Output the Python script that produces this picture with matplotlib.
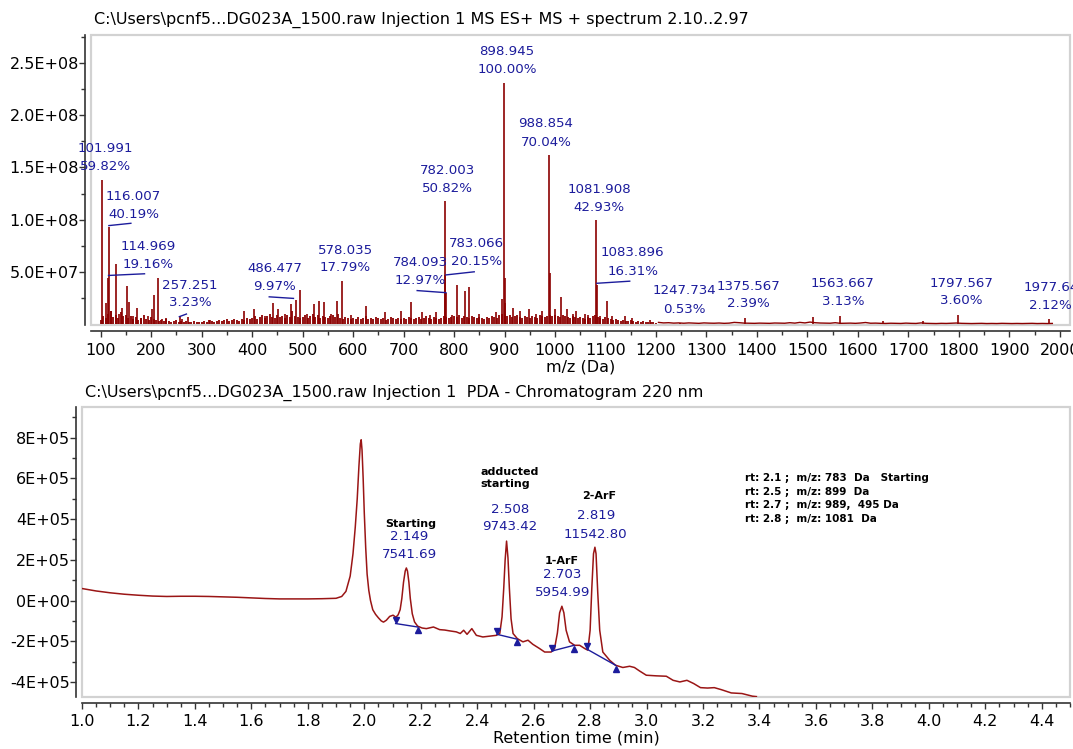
import numpy as np
import matplotlib
matplotlib.use("Agg")
import matplotlib.pyplot as plt
from matplotlib.patches import Rectangle
from matplotlib.ticker import MultipleLocator, FuncFormatter

plt.rcParams['font.family'] = ['DejaVu Sans']

# ---------------- DATA: MS spectrum ----------------
# main peaks (m/z, intensity in millions of counts)
peak_mz = [102.0, 110, 114.97, 116.0, 121, 130.5, 137, 143, 152, 157, 164, 172, 180, 193,
           201, 206, 214.5, 222, 229, 257.25, 262, 274, 317, 384, 404, 425, 441.5, 452,
           466, 477, 486.5, 495, 509, 522.6, 533.5, 541.7, 557, 569, 578.0, 595, 625.6,
           664, 695, 715.5, 736, 752, 765, 782.0, 783.07, 784.09, 796, 806, 821, 830,
           850, 882.5, 896, 898.95, 900.0, 901.5, 916, 930, 948, 963, 975, 988.85, 989.9,
           1000, 1011, 1024.7, 1035, 1042, 1059, 1066, 1081.9, 1083.9, 1090, 1103.6,
           1112, 1138, 1152, 1189, 1247.7, 1375.6, 1511.7, 1563.7, 1650, 1729, 1797.6,
           1977.6]
peak_int_M = [138, 20, 44.3, 92.8, 12, 57.6, 10, 15.6, 36, 21, 8, 15.6, 6, 8,
              14, 27.4, 43.6, 5, 6, 7.5, 5, 6.7, 4, 12, 14, 8, 20, 14,
              10, 19, 23, 32.5, 10, 19.4, 22, 21, 10, 22, 41.1, 9, 17,
              11, 12.4, 21, 11, 9, 11, 117.4, 46.5, 30.0, 9, 37, 32, 35,
              10, 11, 24, 231, 44, 20, 15, 12, 14, 10, 12, 161.8, 49,
              14, 26, 14, 10, 12, 10, 9, 99.2, 37.7, 8, 21.8,
              8, 8, 6, 4, 1.2, 5.5, 6.6, 7.2, 3, 3, 8.3,
              4.9]

# low-level background peaks, sampled every 5 Da from 100 Da (intensity, millions)
grass_start, grass_step = 100, 5
grass_M = [4, 8, 6, 10, 12, 7, 9, 6, 11, 8,
           9, 6, 8, 5, 7, 4, 6, 9, 5, 4, 7, 5, 4, 3, 4, 3, 5, 3, 2, 3,
           4, 2, 3, 2, 3, 2, 2, 3, 2, 2,
           2, 3, 2, 4, 3, 2, 3, 4, 3, 4, 5, 3, 4, 5, 4, 3, 5, 4, 6, 5,
           6, 8, 5, 7, 9, 6, 8, 10, 7, 6, 9, 7, 8, 6, 9, 7, 12, 8, 7, 6,
           7, 9, 6, 8, 10, 7, 9, 6, 8, 7, 6, 8, 9, 7, 10, 6, 5, 7, 6, 5,
           6, 5, 7, 5, 6, 8, 5, 6, 5, 7, 6, 5, 6, 4, 5, 7, 6, 5, 6, 5,
           6, 5, 7, 6, 5, 6, 7, 5, 6, 8, 6, 5, 7, 6, 5, 6, 8, 7, 6, 7,
           8, 7, 9, 6, 8, 7, 6, 8, 7, 6, 7, 6, 5, 7, 6, 8, 7, 6, 9, 10,
           10, 8, 9, 7, 8, 9, 7, 6, 8, 7, 6, 8, 7, 6, 9, 8, 7, 8, 9, 8,
           9, 8, 7, 9, 8, 7, 6, 8, 7, 6, 7, 6, 5, 7, 6, 8, 9, 7, 6, 5,
           7, 6, 5, 4, 5, 4, 3, 4, 3, 3, 4, 3, 2, 3, 2, 3, 2, 2, 2, 2, 1]
# sparse background above 1200 Da, every 10 Da (millions)
tail_start, tail_step = 1205, 10
tail_M = [1.5, 1, 1.2, 0.8, 1, 0.7, 1, 0.8, 0.6, 1, 0.8, 0.7, 0.9, 0.6, 0.8, 1.5, 1.2, 0.8,
          0.7, 0.6, 0.8, 0.7, 0.6, 0.9, 0.8, 0.7, 1.2, 0.8, 1.5, 1.0, 1.8, 1.2, 0.9, 0.8,
          0.7, 1.2, 0.6, 0.7, 0.8, 0.6, 0.9, 1.4, 0.7, 0.8, 0.6, 0.5, 0.7, 0.6, 0.5, 0.8,
          0.6, 0.5, 1.0, 0.6, 0.5, 0.4, 0.6, 0.5, 0.7, 0.9, 0.6, 0.5, 0.4, 0.5, 0.6, 0.4,
          0.5, 0.4, 0.6, 0.5, 0.4, 0.5, 0.4, 0.5, 0.6, 0.4, 0.5, 0.4, 0.5]

# labels on spectrum
lab_mz_txt = ["101.991", "116.007", "114.969", "257.251", "486.477", "578.035", "782.003",
              "784.093", "783.066", "898.945", "988.854", "1081.908", "1083.896",
              "1247.734", "1375.567", "1563.667", "1797.567", "1977.64"]
lab_pct_txt = ["59.82%", "40.19%", "19.16%", "3.23%", "9.97%", "17.79%", "50.82%",
               "12.97%", "20.15%", "100.00%", "70.04%", "42.93%", "16.31%",
               "0.53%", "2.39%", "3.13%", "3.60%", "2.12%"]

# ---------------- DATA: chromatogram ----------------
chrom_t = [1.00, 1.05, 1.10, 1.15, 1.20, 1.25, 1.30, 1.35, 1.40, 1.45, 1.50, 1.55, 1.60, 1.65,
           1.70, 1.75, 1.80, 1.85, 1.90, 1.92, 1.935, 1.95, 1.96, 1.968, 1.975, 1.981, 1.986,
           1.989, 1.992, 1.996, 2.000, 2.005, 2.010, 2.016, 2.022, 2.030, 2.040, 2.050, 2.060,
           2.068, 2.078, 2.090, 2.102, 2.112, 2.120, 2.127, 2.133, 2.139, 2.145, 2.149, 2.153,
           2.158, 2.163, 2.170, 2.178, 2.189, 2.205, 2.220, 2.235, 2.245, 2.267, 2.285, 2.302,
           2.326, 2.340, 2.352, 2.364, 2.381, 2.397, 2.420, 2.444, 2.468, 2.480, 2.488, 2.494,
           2.499, 2.504, 2.509, 2.514, 2.520, 2.527, 2.542, 2.562, 2.580, 2.597, 2.621, 2.639,
           2.662, 2.674, 2.684, 2.692, 2.700, 2.707, 2.715, 2.727, 2.745, 2.763, 2.781, 2.792,
           2.800, 2.806, 2.812, 2.817, 2.821, 2.827, 2.834, 2.845, 2.869, 2.890, 2.916, 2.940,
           2.957, 2.975, 2.999, 3.034, 3.070, 3.094, 3.118, 3.143, 3.167, 3.191, 3.216, 3.240,
           3.265, 3.300, 3.338, 3.375, 3.389]
chrom_y = [0.59e5, 0.47e5, 0.38e5, 0.31e5, 0.26e5, 0.22e5, 0.20e5, 0.21e5, 0.21e5, 0.20e5,
           0.18e5, 0.16e5, 0.13e5, 0.10e5, 0.08e5, 0.08e5, 0.08e5, 0.09e5, 0.11e5, 0.20e5,
           0.45e5, 1.2e5, 2.3e5, 3.6e5, 5.0e5, 6.6e5, 7.7e5, 7.9e5, 7.4e5, 6.0e5, 4.3e5,
           2.6e5, 1.3e5, 0.5e5, 0.0, -0.45e5, -0.68e5, -0.85e5, -1.0e5, -1.06e5, -0.97e5,
           -0.78e5, -0.72e5, -0.82e5, -0.70e5, -0.45e5, 0.10e5, 0.9e5, 1.45e5, 1.6e5, 1.45e5,
           0.9e5, 0.10e5, -0.65e5, -1.05e5, -1.26e5, -1.35e5, -1.38e5, -1.33e5, -1.30e5,
           -1.43e5, -1.45e5, -1.49e5, -1.54e5, -1.62e5, -1.46e5, -1.66e5, -1.38e5, -1.71e5,
           -1.79e5, -1.75e5, -1.71e5, -1.62e5, -0.8e5, 0.6e5, 2.0e5, 2.92e5, 2.1e5, 0.6e5,
           -0.9e5, -1.62e5, -1.87e5, -2.03e5, -1.95e5, -2.15e5, -2.36e5, -2.53e5, -2.53e5,
           -2.36e5, -1.6e5, -0.6e5, -0.28e5, -0.6e5, -1.46e5, -2.03e5, -2.2e5, -2.2e5, -2.36e5,
           -2.44e5, -1.46e5, 0.6e5, 2.3e5, 2.62e5, 2.3e5, 0.4e5, -1.46e5, -2.53e5, -2.93e5,
           -3.18e5, -3.29e5, -3.23e5, -3.29e5, -3.46e5, -3.67e5, -3.70e5, -3.72e5, -3.92e5,
           -4.00e5, -3.92e5, -4.08e5, -4.28e5, -4.30e5, -4.28e5, -4.38e5, -4.54e5, -4.57e5,
           -4.70e5, -4.72e5]

# integration baselines: (t_start, y_start, t_end, y_end)
base_t0 = [2.111, 2.470, 2.665, 2.789]
base_y0 = [-1.13e5, -1.66e5, -2.48e5, -2.39e5]
base_t1 = [2.189, 2.542, 2.743, 2.890]
base_y1 = [-1.30e5, -1.90e5, -2.20e5, -3.18e5]

peak_names = ["Starting", "adducted\nstarting", "1-ArF", "2-ArF"]
peak_rt_txt = ["2.149", "2.508", "2.703", "2.819"]
peak_area_txt = ["7541.69", "9743.42", "5954.99", "11542.80"]
rt_notes = ["rt: 2.1 ;  m/z: 783  Da   Starting",
            "rt: 2.5 ;  m/z: 899  Da",
            "rt: 2.7 ;  m/z: 989,  495 Da",
            "rt: 2.8 ;  m/z: 1081  Da"]

# ---------------- styling ----------------
RED = '#8b0000'
CRED = '#9a1515'
BLUE = '#1c1c9c'
AX = '#333333'
W, H = 1073, 749
fig = plt.figure(figsize=(W / 100, H / 100), dpi=100)


def px_axes(l, t, r, b):
    return fig.add_axes([l / W, 1 - b / H, (r - l) / W, (b - t) / H])


def style(ax):
    for s in ['top', 'right']:
        ax.spines[s].set_visible(False)
    for s in ['left', 'bottom']:
        ax.spines[s].set_position(('outward', 4.3))
        ax.spines[s].set_color(AX)
        ax.spines[s].set_linewidth(1.2)
    ax.add_patch(Rectangle((0, 0), 1, 1, transform=ax.transAxes, fill=False,
                           ec='#d2d2d2', lw=1.6, clip_on=False, zorder=0))
    ax.tick_params(which='major', direction='out', length=4, width=1, color=AX,
                   labelsize=11.5)
    ax.tick_params(which='minor', direction='out', length=3, width=1, color=AX)
    ax.tick_params(axis='y', which='major', pad=0.3)
    ax.tick_params(axis='x', which='major', pad=5)


# ---------------- top: spectrum ----------------
ax1 = px_axes(91, 35, 1070, 325)
style(ax1)
ax1.set_xlim(81, 2020)
ax1.set_ylim(-1e6, 2.77e8)

gm = [grass_start + i * grass_step for i in range(len(grass_M))]
ax1.vlines(gm, 0, np.array(grass_M) * 1e6, color=RED, lw=1.3)
tm = [tail_start + i * tail_step for i in range(len(tail_M))]
ax1.plot(tm, np.array(tail_M) * 1e6, color=RED, lw=1.0)
ax1.vlines(peak_mz, 0, np.array(peak_int_M) * 1e6, color=RED, lw=1.2)

ax1.xaxis.set_major_locator(MultipleLocator(100))
ax1.xaxis.set_minor_locator(MultipleLocator(50))
ax1.set_yticks([5e7, 1e8, 1.5e8, 2e8, 2.5e8])
ax1.set_yticks([2.5e7, 7.5e7, 1.25e8, 1.75e8, 2.25e8, 2.75e8], minor=True)
ax1.yaxis.set_major_formatter(FuncFormatter(lambda v, p: f"{v:.1E}"))
ax1.xaxis.set_major_formatter(FuncFormatter(lambda v, p: f"{v:.0f}"))
ax1.set_xlabel("m/z (Da)", fontsize=11.5, labelpad=1)

# label placement: (x centre, y of line 1, y of line 2) in data units
lab_pos = [(109, 1.68e8, 1.51e8), (165, 1.22e8, 1.05e8), (194, 7.39e7, 5.7e7),
           (277, 3.73e7, 2.04e7), (445, 5.29e7, 3.57e7), (585, 7.07e7, 5.38e7),
           (787, 1.47e8, 1.30e8), (733, 5.92e7, 4.2e7), (845, 7.68e7, 5.96e7),
           (905, 2.61e8, 2.44e8), (982, 1.92e8, 1.74e8), (1088, 1.29e8, 1.12e8),
           (1154, 6.85e7, 5.05e7), (1256, 3.16e7, 1.42e7), (1383, 3.63e7, 1.95e7),
           (1570, 3.85e7, 2.11e7), (1805, 3.92e7, 2.21e7), (1982, 3.54e7, 1.8e7)]
for (x, y1, y2), t1, t2 in zip(lab_pos, lab_mz_txt, lab_pct_txt):
    ax1.text(x, y1, t1, ha='center', va='center', color=BLUE, fontsize=9.6, clip_on=False)
    ax1.text(x, y2, t2, ha='center', va='center', color=BLUE, fontsize=9.6, clip_on=False)

leaders = [((116.4, 9.43e7), (160, 9.65e7)), ((115.7, 4.65e7), (187, 4.81e7)),
           ((256, 7.0e6), (270, 9.5e6)), ((434, 2.6e7), (482, 2.45e7)),
           ((784, 3.0e7), (727, 3.2e7)), ((784, 4.7e7), (840, 5.0e7)),
           ((1083, 3.9e7), (1148, 4.1e7))]
for (a, b) in leaders:
    ax1.plot([a[0], b[0]], [a[1], b[1]], color=BLUE, lw=1)

fig.text(94 / W, 1 - 20 / H,
         "C:\\Users\\pcnf5...DG023A_1500.raw Injection 1 MS ES+ MS + spectrum 2.10..2.97",
         ha='left', va='center', fontsize=11.5)

# ---------------- bottom: chromatogram ----------------
ax2 = px_axes(82, 407, 1070, 697)
style(ax2)
ax2.tick_params(axis='x', which='major', pad=4)
ax2.set_xlim(1.0, 4.5)
ax2.set_ylim(-4.74e5, 9.51e5)
ax2.plot(chrom_t, chrom_y, color=CRED, lw=1.1)
ax2.xaxis.set_major_locator(MultipleLocator(0.2))
ax2.xaxis.set_minor_locator(MultipleLocator(0.05))
ax2.set_yticks([-4e5, -2e5, 0, 2e5, 4e5, 6e5, 8e5])
ax2.set_yticks([-3e5, -1e5, 1e5, 3e5, 5e5, 7e5, 9e5], minor=True)
ax2.yaxis.set_major_formatter(FuncFormatter(lambda v, p: f"{v:.0E}".replace("-0E", "0E")))
ax2.xaxis.set_major_formatter(FuncFormatter(lambda v, p: f"{v:.1f}"))
ax2.set_xlabel("Retention time (min)", fontsize=11.5, labelpad=1)

for t0, y0, t1, y1 in zip(base_t0, base_y0, base_t1, base_y1):
    ax2.plot([t0, t1], [y0, y1], color=BLUE, lw=1)
    ax2.plot(t0, y0 + 1.6e4, marker='v', color=BLUE, ms=4.8, mec=BLUE)
    ax2.plot(t1, y1 - 1.6e4, marker='^', color=BLUE, ms=4.8, mec=BLUE)

name_pos = [(2.166, 3.77e5, 'center'), (2.410, 6.0e5, 'left'),
            (2.698, 1.93e5, 'center'), (2.831, 5.15e5, 'center')]
for (x, y, ha), nm in zip(name_pos, peak_names):
    ax2.text(x, y, nm, ha=ha, va='center', fontsize=8, fontweight='bold',
             linespacing=1.25)
num_pos = [(2.159, 3.16e5, 2.28e5), (2.517, 4.49e5, 3.62e5),
           (2.702, 1.26e5, 0.38e5), (2.820, 4.16e5, 3.26e5)]
for (x, y1, y2), t1, t2 in zip(num_pos, peak_rt_txt, peak_area_txt):
    ax2.text(x, y1, t1, ha='center', va='center', color=BLUE, fontsize=9.6)
    ax2.text(x, y2, t2, ha='center', va='center', color=BLUE, fontsize=9.6)

note_y = [6.0e5, 5.34e5, 4.67e5, 4.03e5]
for y, s in zip(note_y, rt_notes):
    ax2.text(3.35, y, s, ha='left', va='center', fontsize=7.5, fontweight='bold')

fig.text(85 / W, 1 - 393 / H,
         "C:\\Users\\pcnf5...DG023A_1500.raw Injection 1  PDA - Chromatogram 220 nm",
         ha='left', va='center', fontsize=11.5)

fig.savefig("out.png", dpi=100)
